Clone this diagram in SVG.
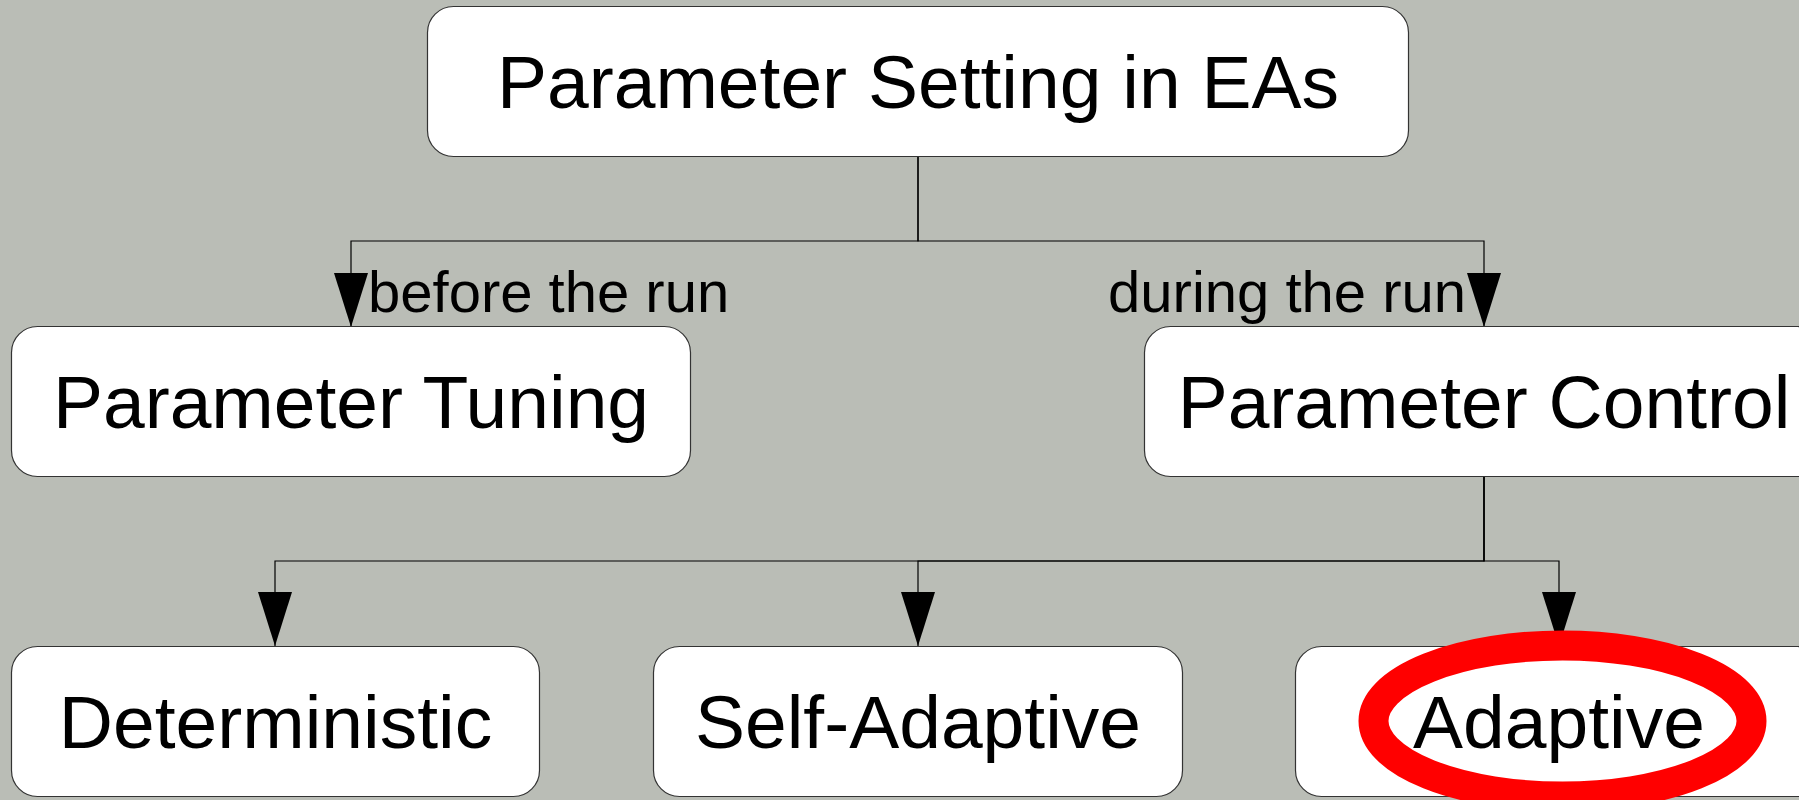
<svg xmlns="http://www.w3.org/2000/svg" width="1799" height="800" viewBox="0 0 1799 800">
<style>
.box{fill:#ffffff;stroke:#333333;stroke-width:1.2}
.lbl{font-family:"Liberation Sans",Arial,sans-serif;font-size:75px;fill:#000;text-anchor:middle}
.elbl{font-family:"Liberation Sans",Arial,sans-serif;font-size:58px;fill:#000}
.conn{fill:none;stroke:#000;stroke-width:1.2}
</style>
<defs>
<marker id="arr" viewBox="0 0 54 34" refX="54" refY="17" markerWidth="54" markerHeight="34" markerUnits="userSpaceOnUse" orient="auto">
<path d="M0,0 L54,17 L0,34 z" fill="#000"/>
</marker>
</defs>
<rect x="0" y="0" width="1799" height="800" fill="#babdb6"/>
<g id="connectors">
<path class="conn" d="M918,157 V241 H351 V327" marker-end="url(#arr)"/>
<path class="conn" d="M918,157 V241 H1484 V327" marker-end="url(#arr)"/>
<path class="conn" d="M1484,476 V561 H275 V646" marker-end="url(#arr)"/>
<path class="conn" d="M1484,476 V561 H918 V646" marker-end="url(#arr)"/>
<path class="conn" d="M1484,476 V561 H1559 V646" marker-end="url(#arr)"/>
<text class="elbl" x="368" y="312">before the run</text>
<text class="elbl" x="1466" y="312" text-anchor="end">during the run</text>
</g>
<g id="node-root">
<rect class="box" x="427.5" y="6.5" width="981" height="150" rx="26" ry="26"/>
<text class="lbl" x="918" y="108">Parameter Setting in EAs</text>
</g>
<g id="node-tuning">
<rect class="box" x="11.5" y="326.5" width="679" height="150" rx="26" ry="26"/>
<text class="lbl" x="351" y="428">Parameter Tuning</text>
</g>
<g id="node-control">
<rect class="box" x="1144.5" y="326.5" width="679" height="150" rx="26" ry="26"/>
<text class="lbl" x="1484" y="428">Parameter Control</text>
</g>
<g id="node-deterministic">
<rect class="box" x="11.5" y="646.5" width="528" height="150" rx="26" ry="26"/>
<text class="lbl" x="275.5" y="748">Deterministic</text>
</g>
<g id="node-selfadaptive">
<rect class="box" x="653.5" y="646.5" width="529" height="150" rx="26" ry="26"/>
<text class="lbl" x="918" y="748">Self-Adaptive</text>
</g>
<g id="node-adaptive">
<rect class="box" x="1295.5" y="646.5" width="528" height="150" rx="26" ry="26"/>
<text class="lbl" x="1559" y="748">Adaptive</text>
</g>
<g id="highlight">
<ellipse cx="1562.5" cy="721" rx="189" ry="75.5" fill="none" stroke="#ff0000" stroke-width="30"/>
</g>
</svg>
